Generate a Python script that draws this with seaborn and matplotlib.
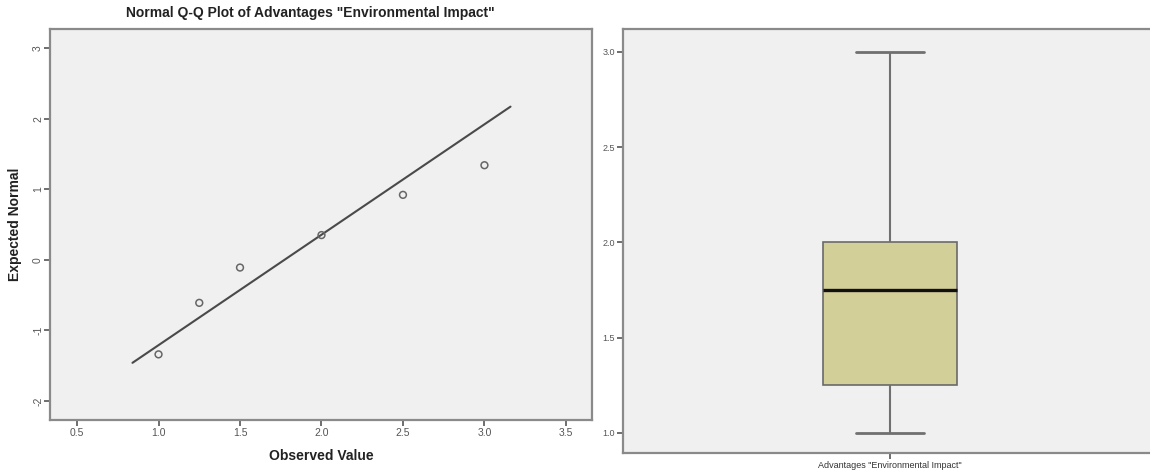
import matplotlib
matplotlib.use("Agg")
import matplotlib.pyplot as plt
import seaborn as sns
import pandas as pd

# ---- data ----
observed_values = [1.0, 1.25, 1.5, 2.0, 2.5, 3.0]
expected_normal = [-1.34, -0.61, -0.11, 0.35, 0.92, 1.34]
line_x = [0.84, 3.16]
line_y = [-1.46, 2.17]
qq_xticks = [0.5, 1.0, 1.5, 2.0, 2.5, 3.0, 3.5]
qq_yticks = [-2, -1, 0, 1, 2, 3]

# five-number summary: min, Q1, median, Q3, max
box_summary = [1.0, 1.25, 1.75, 2.0, 3.0]
box_label = 'Advantages "Environmental Impact"'
box_yticks = [1.0, 1.5, 2.0, 2.5, 3.0]

title = 'Normal Q-Q Plot of Advantages "Environmental Impact"'

sns.set_theme(style="white")
plt.rcParams["font.family"] = ["Liberation Sans", "DejaVu Sans"]

bg = "#f0f0f0"
frame = "#8a8a8a"
tickc = "#555555"

fig = plt.figure(figsize=(11.5, 4.75), dpi=100)
ax1 = fig.add_axes([50 / 1150, 1 - 420 / 475, 542 / 1150, 391 / 475])
ax2 = fig.add_axes([623 / 1150, 1 - 453 / 475, 534 / 1150, 424 / 475])

for ax in (ax1, ax2):
    ax.set_facecolor(bg)
    for s in ax.spines.values():
        s.set_color(frame)
        s.set_linewidth(1.6)
    ax.tick_params(direction="out", length=4, width=1.2, color=tickc,
                   labelcolor="#555555", left=True, bottom=True, pad=2)

# ---- Q-Q plot ----
qq_df = pd.DataFrame({"Observed Value": observed_values, "Expected Normal": expected_normal})
line_df = pd.DataFrame({"x": line_x, "y": line_y})
sns.lineplot(data=line_df, x="x", y="y", ax=ax1, color="#4a4a4a", linewidth=1.5)
sns.scatterplot(data=qq_df, x="Observed Value", y="Expected Normal", ax=ax1,
                marker="o", s=24, facecolor="none", edgecolor="#666666", linewidth=1.1,
                zorder=3)
ax1.set_xlim(0.334, 3.66)
ax1.set_ylim(-2.27, 3.27)
ax1.set_xticks(qq_xticks)
ax1.set_xticklabels([f"{v:.1f}" for v in qq_xticks], fontsize=7.5)
ax1.set_yticks(qq_yticks)
ax1.set_yticklabels([str(v) for v in qq_yticks], fontsize=7.5, rotation=90, va="center")
ax1.tick_params(axis="y", pad=1)
ax1.set_xlabel("Observed Value", fontsize=10, fontweight="bold", color="#222222", labelpad=8)
ax1.set_ylabel("Expected Normal", fontsize=10, fontweight="bold", color="#222222", labelpad=8)
fig.text(310 / 1150, 1 - 13 / 475, title, ha="center", va="center",
         fontsize=10, fontweight="bold", color="#222222")

# ---- Box plot ----
box_df = pd.DataFrame({"group": [box_label] * len(box_summary), "value": box_summary})
sns.boxplot(data=box_df, x="group", y="value", ax=ax2, width=0.251, whis=1.5,
            color="#d3cf98", saturation=1, linewidth=1.2, linecolor="#666666",
            showfliers=False,
            boxprops=dict(facecolor="#d3cf98", edgecolor="#6a6a6a"),
            medianprops=dict(color="#111111", linewidth=2.4),
            whiskerprops=dict(color="#707070", linewidth=1.5),
            capprops=dict(color="#707070", linewidth=2.0))
ax2.set_xlim(-0.5, 0.5)
ax2.set_ylim(0.895, 3.12)
ax2.set_yticks(box_yticks)
ax2.set_yticklabels([f"{v:.1f}" for v in box_yticks], fontsize=6.5)
ax2.tick_params(axis="x", labelsize=6.5, labelcolor="#333333")
ax2.set_xlabel("")
ax2.set_ylabel("")

fig.savefig("out.png", dpi=100, facecolor="white")
